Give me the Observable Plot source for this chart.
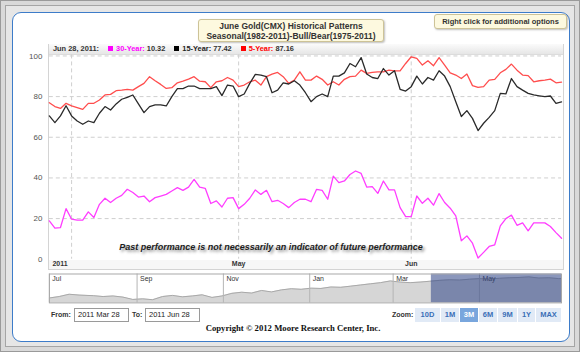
<!DOCTYPE html>
<html>
<head>
<meta charset="utf-8">
<script src="https://cdn.jsdelivr.net/npm/d3@7"></script>
<script src="https://cdn.jsdelivr.net/npm/@observablehq/plot@0.6"></script>
<style>
  html, body { margin:0; padding:0; background:#d6d6d6; }
  #frame { position:relative; width:580px; height:352px; box-sizing:border-box; border:1px solid #9a9a9a; background:#d9d9d9; overflow:hidden; font-family:"Liberation Sans", Arial, sans-serif; }
  .abs { position:absolute; }
  #bevel { left:4px; top:4px; width:570px; height:342px; box-sizing:border-box; border:1px solid #a5a5a5; background:#e6e6e6; }
  #panel { left:11px; top:11px; width:558px; height:330px; box-sizing:border-box; border:1.5px solid #3d7cc9; border-radius:9px; background:#fff; }
  .note { background:#fdf9df; border:1px solid #cdc397; border-radius:3px; box-shadow:1px 1px 2px rgba(0,0,0,0.25); color:#333; font-weight:bold; text-align:center; box-sizing:border-box; }
  #title { left:197px; top:18px; width:186px; height:23px; font-size:8.5px; line-height:10px; padding-top:1px; }
  #rclick { left:433px; top:13px; width:133px; height:15px; font-size:7.5px; line-height:13px; }
  #plotbox { left:47px; top:43px; width:516px; height:226px; box-sizing:border-box; border:1px solid #d4d4d4; }
  #legend { left:48px; top:43px; width:514px; height:10px; background:linear-gradient(#fbfbfb,#e6e6e6); border-bottom:1px solid #dcdcdc; font-size:7.4px; font-weight:bold; line-height:10px; color:#333; white-space:nowrap; }
  #legend span.sw { display:inline-block; width:5px; height:5px; margin:0 3px 0 9px; vertical-align:0px; }
  #band { left:48px; top:259px; width:514px; height:9px; background:#f7f7f7; }
  #disclaimer { left:0px; width:540px; top:241px; text-align:center; font-size:9px; font-weight:bold; font-style:italic; color:#1e1e1e; text-shadow:2px 2px 3px rgba(0,0,0,0.45); white-space:nowrap; }
  .lbl { font-size:7px; font-weight:bold; color:#333; }
  .inp { border:1px solid #9a9a9a; height:14px; box-sizing:border-box; font-size:7.5px; line-height:12px; padding-left:3px; color:#222; background:#fff; }
  #zoombtns { left:414px; top:307px; height:14px; display:flex; }
  #zoombtns div { height:14px; line-height:14px; font-size:7.5px; font-weight:bold; text-align:center; color:#3a6fb7; background:#e1eaf6; border-right:1px solid #fff; box-sizing:border-box; }
  #zoombtns div.sel { background:#79a6dd; color:#fff; }
  #copy { left:0; width:584px; top:322px; text-align:center; font-family:"Liberation Serif","Times New Roman",serif; font-weight:bold; font-size:8.7px; color:#111; }
</style>
</head>
<body>
<div id="frame">
  <div id="bevel" class="abs"></div>
  <div id="panel" class="abs"></div>
  <div id="title" class="abs note">June Gold(CMX) Historical Patterns<br>Seasonal(1982-2011)-Bull/Bear(1975-2011)</div>
  <div id="rclick" class="abs note">Right click for additional options</div>
  <div id="plotbox" class="abs"></div>
  <div id="band" class="abs"></div>
  <div id="legend" class="abs"></div>
  <div id="main" class="abs" style="left:0;top:40px"></div>
  <div id="disclaimer" class="abs">Past performance is not necessarily an indicator of future performance</div>
  <div id="nav" class="abs" style="left:0;top:272px"></div>
  <div class="abs lbl" style="left:50px;top:310px">From:</div>
  <div class="abs inp" style="left:73px;top:307px;width:55px">2011 Mar 28</div>
  <div class="abs lbl" style="left:131px;top:310px">To:</div>
  <div class="abs inp" style="left:144px;top:307px;width:55px">2011 Jun 28</div>
  <div class="abs lbl" style="left:391px;top:310px">Zoom:</div>
  <div id="zoombtns" class="abs"></div>
  <div id="copy" class="abs">Copyright © 2012 Moore Research Center, Inc.</div>
</div>
<script>
// ---------- data ----------
const startDate = "2011-03-28";
const endDate = "2011-06-28";
const legendDate = "Jun 28, 2011:";
const seriesNames = ["30-Year", "15-Year", "5-Year"];
const seriesColors = ["#ff3dff", "#2a2a2a", "#ff4d4d"];
const legendSwatch = ["#ff00ff", "#000000", "#ff0000"];

const year30 = [18.9,15.3,15.6,24.9,19.7,19.2,19.2,23.3,20.5,27.0,30.0,27.9,30.0,31.4,34.4,32.8,30.6,31.1,28.3,30.3,
  31.1,31.9,33.6,35.2,33.9,35.5,39.3,35.5,34.9,27.4,28.7,25.7,30.0,30.3,24.9,27.0,30.0,34.1,31.9,33.9,
  28.3,29.0,27.4,25.4,27.9,29.5,29.5,28.3,34.4,33.9,29.5,40.9,37.7,38.5,41.7,43.4,42.2,35.5,35.7,32.4,
  38.5,34.1,34.1,25.4,21.0,21.0,31.1,27.5,30.0,26.6,32.3,27.9,25.1,21.3,9.1,11.5,7.9,0.6,3.4,6.3,
  7.1,16.4,20.0,21.7,16.7,17.9,14.0,17.9,17.9,17.9,16.1,13.1,10.32];
const year15 = [70.5,67.2,70.5,75.5,70.5,68.0,66.4,68.0,67.2,71.8,75.1,73.4,76.4,78.7,79.6,80.8,76.4,72.1,75.1,75.9,
  75.9,75.4,80.0,83.9,83.9,85.2,85.2,83.9,83.9,83.9,84.9,80.5,85.7,85.2,80.0,81.3,86.5,90.9,90.6,89.8,
  81.9,83.2,86.8,86.2,87.8,85.7,81.9,77.5,80.0,81.3,80.0,90.1,90.1,91.7,96.3,94.7,99.2,91.1,89.4,88.9,
  93.8,90.6,92.7,83.6,82.7,84.9,90.1,86.2,89.4,88.1,92.7,90.1,84.9,77.5,70.2,73.1,69.3,63.3,66.9,69.8,
  73.1,81.6,81.3,88.9,84.9,83.2,81.6,80.8,80.4,80.0,80.3,76.7,77.42];
const year5 = [77.0,75.1,74.2,76.7,75.4,74.6,73.7,76.7,76.7,78.3,80.8,81.1,82.9,83.2,83.6,83.2,84.9,86.5,89.8,87.8,
  86.0,84.0,84.4,86.8,87.6,88.6,89.8,87.6,87.3,84.4,87.3,87.8,89.4,88.1,84.9,85.7,87.3,88.1,85.7,89.8,
  91.1,91.9,89.8,86.5,88.1,92.2,88.1,88.1,90.1,88.5,85.7,87.3,85.7,88.5,89.8,90.1,93.0,91.4,91.9,92.2,
  92.2,93.0,92.7,92.7,96.3,99.6,98.8,95.5,97.6,95.2,99.2,95.5,91.7,90.6,88.9,91.1,85.4,84.5,84.9,88.1,
  88.5,91.7,93.4,96.0,93.0,90.6,90.3,87.3,87.8,88.1,88.6,86.8,87.16];

const yTicks = [0, 20, 40, 60, 80, 100];
const xTickDates = ["2011-04-01", "2011-05-01", "2011-06-01"];
const xTickLabels = ["2011", "May", "Jun"];

// navigator (full-year overview)
const navStart = "2010-07-01";
const navDates = ["2010-07-01","2010-07-08","2010-07-15","2010-07-22","2010-08-01","2010-08-08","2010-08-15","2010-08-22","2010-08-29",
  "2010-09-05","2010-09-12","2010-09-19","2010-09-26","2010-10-03","2010-10-10","2010-10-17","2010-10-24","2010-10-31",
  "2010-11-07","2010-11-14","2010-11-21","2010-11-28","2010-12-05","2010-12-12","2010-12-19","2010-12-26",
  "2011-01-02","2011-01-09","2011-01-16","2011-01-23","2011-01-30","2011-02-06","2011-02-13","2011-02-20","2011-02-27",
  "2011-03-06","2011-03-13","2011-03-20","2011-03-27","2011-04-03","2011-04-10","2011-04-17","2011-04-24",
  "2011-05-01","2011-05-08","2011-05-15","2011-05-22","2011-05-29","2011-06-05","2011-06-12","2011-06-19","2011-06-26","2011-06-28"];
const navValues = [17,22,30,27,25,22,24,20,12, 14,11,22,26,21,24,28,19,24, 33,37,34,43,38,45,49,47,
  51,50,55,54,58,62,66,70,76, 72,70,72,75,78,80,79,82, 84,83,85,87,88,90,86,87,84,84];
const navMonths = ["2010-07-01","2010-09-01","2010-11-01","2011-01-01","2011-03-01","2011-05-01"];
const navMonthLabels = ["Jul","Sep","Nov","Jan","Mar","May"];

const zoomButtons = ["10D","1M","3M","6M","9M","1Y","MAX"];
const zoomSelected = "3M";

// ---------- build ----------
const parse = d3.utcParse("%Y-%m-%d");
const t0 = parse(startDate), t1 = parse(endDate);
const rows = year15.map((_, i) => ({date: d3.utcDay.offset(t0, i), s30: year30[i], s15: year15[i], s5: year5[i]}));
const ticks = xTickDates.map((d, i) => ({date: parse(d), label: xTickLabels[i]}));

// legend
const last = [year30.at(-1), year15.at(-1), year5.at(-1)];
let lg = `<span style="margin-left:4px">${legendDate}</span>`;
seriesNames.forEach((n, i) => {
  lg += `<span class="sw" style="background:${legendSwatch[i]}"></span><span style="color:${i === 1 ? '#222' : legendSwatch[i]}">${n}:</span> ${last[i].toFixed(2)}`;
});
document.getElementById("legend").innerHTML = lg;

const W = 580;
const main = Plot.plot({
  width: W, height: 230,
  marginLeft: 48, marginRight: 18, marginTop: 14.5, marginBottom: 11.5,
  style: {fontFamily: "Liberation Sans, Arial, sans-serif", background: "transparent", overflow: "visible"},
  x: {type: "utc", domain: [t0, t1], axis: null},
  y: {domain: [0, 100], axis: null},
  marks: [
    Plot.gridY(yTicks.filter(d => d > 0), {stroke: "#cfcfcf", strokeOpacity: 1, strokeDasharray: "4,3"}),
    Plot.ruleX(ticks, {x: "date", stroke: "#cfcfcf", strokeDasharray: "4,3", insetTop: -1}),
    Plot.axisY(yTicks, {tickSize: 0, tickPadding: 7, fontSize: 8, fill: "#555"}),
    Plot.lineY(rows, {x: "date", y: "s5", stroke: seriesColors[2], strokeWidth: 1.3}),
    Plot.lineY(rows, {x: "date", y: "s30", stroke: seriesColors[0], strokeWidth: 1.3}),
    Plot.lineY(rows, {x: "date", y: "s15", stroke: seriesColors[1], strokeWidth: 1.3}),
    Plot.text(ticks.slice(1), {x: "date", text: "label", frameAnchor: "bottom", dy: 5, lineAnchor: "middle", fontSize: 7, fontWeight: "bold", fill: "#333"}),
    Plot.text(ticks.slice(0, 1), {x: "date", text: "label", frameAnchor: "bottom", dy: 5, dx: -4, textAnchor: "end", lineAnchor: "middle", fontSize: 7, fontWeight: "bold", fill: "#333"})
  ]
});
document.getElementById("main").appendChild(main);

const navRows = navDates.map((d, i) => ({date: parse(d), v: navValues[i]}));
const months = navMonths.map((d, i) => ({date: parse(d), label: navMonthLabels[i]}));
const nav = Plot.plot({
  width: W, height: 30,
  marginLeft: 48, marginRight: 18, marginTop: 0.5, marginBottom: 0.5,
  style: {fontFamily: "Liberation Sans, Arial, sans-serif", background: "transparent", overflow: "visible"},
  x: {type: "utc", domain: [parse(navStart), t1], axis: null},
  y: {domain: [0, 100], axis: null},
  marks: [
    Plot.areaY(navRows, {x: "date", y: "v", fill: "#d6d6d6"}),
    Plot.lineY(navRows, {x: "date", y: "v", stroke: "#a9a9a9", strokeWidth: 1}),
    Plot.ruleX(months, {x: "date", stroke: "#b5b5b5"}),
    Plot.text(months, {x: "date", text: "label", frameAnchor: "top", dx: 3, dy: 2, textAnchor: "start", lineAnchor: "top", fontSize: 7, fill: "#333"}),
    Plot.rect([{a: t0, b: t1}], {x1: "a", x2: "b", fill: "rgb(55,75,140)", fillOpacity: 0.58}),
    Plot.frame({stroke: "#a8a8a8"})
  ]
});
document.getElementById("nav").appendChild(nav);

// zoom buttons
const widths = {"10D": 26, "1M": 19, "3M": 19, "6M": 19, "9M": 20, "1Y": 18, "MAX": 26};
const zb = document.getElementById("zoombtns");
zoomButtons.forEach(b => {
  const d = document.createElement("div");
  d.textContent = b;
  d.style.width = widths[b] + "px";
  if (b === zoomSelected) d.className = "sel";
  zb.appendChild(d);
});
</script>
</body>
</html>
